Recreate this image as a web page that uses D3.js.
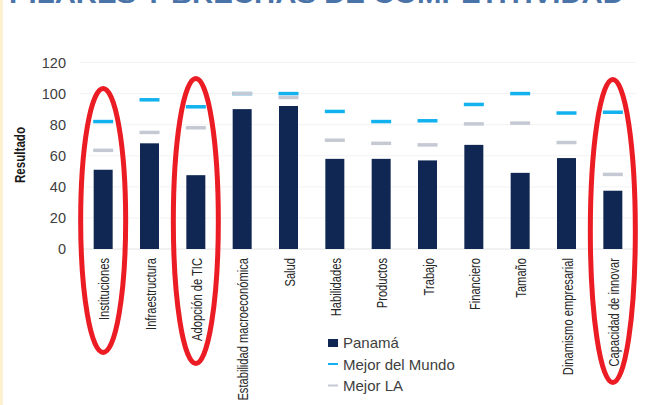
<!DOCTYPE html>
<html>
<head>
<meta charset="utf-8">
<script src="https://cdn.jsdelivr.net/npm/d3@7"></script>
<style>
  html, body { margin: 0; padding: 0; background: #fff; }
  svg { display: block; }
</style>
</head>
<body>
<svg id="chart" width="654" height="405"></svg>
<script>
// chart data
var categories = ["Instituciones", "Infraestructura", "Adopción de TIC", "Estabilidad macroeconómica",
  "Salud", "Habilidades", "Productos", "Trabajo", "Financiero", "Tamaño",
  "Dinamismo empresarial", "Capacidad de innovar"];
var panama = [51, 68, 47.5, 90, 92, 58, 58, 57, 67, 49, 58.5, 37.5];
var mejorMundo = [82, 96, 91.5, 100, 100, 88.5, 82, 82.5, 93, 100, 87.5, 88];
var mejorLA = [63.5, 75, 78, 100, 97.5, 70, 68, 67, 80.5, 81, 68.5, 48];
var yTicks = [0, 20, 40, 60, 80, 100, 120];
var highlighted = ["Instituciones", "Adopción de TIC", "Capacidad de innovar"];

var svg = d3.select("#chart");
var sans = "'Liberation Sans', Arial, sans-serif";
var squeeze = 0.72; // the source used a condensed face, so squeeze the axis texts

// cream strip on the left edge
svg.append("rect").attr("x", 0).attr("y", 0).attr("width", 3).attr("height", 405).attr("fill", "#fdf1d2");

// title, clipped by the top of the picture
svg.append("text")
  .attr("x", 9).attr("y", 3)
  .attr("textLength", 615).attr("lengthAdjust", "spacingAndGlyphs")
  .style("font-family", sans).style("font-weight", "bold").style("font-size", "26px")
  .attr("fill", "#4a73a8")
  .text("PILARES Y BRECHAS DE COMPETITIVIDAD");

var x = d3.scaleBand().domain(categories).range([80, 636]).paddingInner(0.59).paddingOuter(0.295);
var y = d3.scaleLinear().domain([0, 120]).range([249, 62.5]);

var g = svg.append("g");

// gridlines
g.selectAll(".grid")
  .data(yTicks)
  .enter().append("line")
  .attr("x1", 80).attr("x2", 636)
  .attr("y1", function(d) { return y(d); })
  .attr("y2", function(d) { return y(d); })
  .style("stroke", function(d) { return d === 0 ? "#e4e4e4" : "#f3f3f3"; })
  .style("stroke-width", "1px");

// y axis labels
var yAxis = d3.axisLeft(y).tickValues(yTicks).tickSize(0).tickPadding(0);
var ya = g.append("g").attr("transform", "translate(66,0)").call(yAxis);
ya.select(".domain").remove();
ya.selectAll("text")
  .style("font-family", sans).style("font-size", "14.5px").attr("fill", "#404040");

g.append("text")
  .attr("transform", "translate(25,155) rotate(-90) scale(0.8,1)")
  .style("text-anchor", "middle")
  .style("font-family", sans).style("font-weight", "bold").style("font-size", "14.5px")
  .attr("fill", "#1a1a1a")
  .text("Resultado");

// bars
g.selectAll(".bar")
  .data(categories)
  .enter().append("rect")
  .attr("class", "bar")
  .attr("x", function(d) { return x(d); })
  .attr("width", x.bandwidth())
  .attr("y", function(d, i) { return y(panama[i]); })
  .attr("height", function(d, i) { return y(0) - y(panama[i]); })
  .attr("fill", "#0f2752");

// markers
function dashes(values, color, cls) {
  g.selectAll("." + cls)
    .data(categories)
    .enter().append("line")
    .attr("class", cls)
    .attr("x1", function(d) { return x(d) - 0.5; })
    .attr("x2", function(d) { return x(d) + x.bandwidth() + 0.5; })
    .attr("y1", function(d, i) { return y(values[i]); })
    .attr("y2", function(d, i) { return y(values[i]); })
    .style("stroke", color)
    .style("stroke-width", "3.5px");
}
dashes(mejorMundo, "#12b2ee", "mundo");
dashes(mejorLA, "#c5c9d3", "la");

// x labels
g.selectAll(".xlab")
  .data(categories)
  .enter().append("text")
  .attr("class", "xlab")
  .attr("transform", function(d) {
    return "translate(" + (x(d) + x.bandwidth() / 2 + 6) + ",258) rotate(-90) scale(" + squeeze + ",1)";
  })
  .style("text-anchor", "end")
  .style("font-family", sans).style("font-size", "15.5px")
  .attr("fill", "#262626")
  .text(function(d) { return d; });

// red ellipses
var ellipses = [
  { cat: "Instituciones", top: 86, bottom: 355 },
  { cat: "Adopción de TIC", top: 76, bottom: 366 },
  { cat: "Capacidad de innovar", top: 77, bottom: 385 }
];
g.selectAll(".ring")
  .data(ellipses.filter(function(e) { return highlighted.indexOf(e.cat) >= 0; }))
  .enter().append("ellipse")
  .attr("cx", function(d) { return x(d.cat) + x.bandwidth() / 2; })
  .attr("cy", function(d) { return (d.top + d.bottom) / 2; })
  .attr("rx", 22.5)
  .attr("ry", function(d) { return (d.bottom - d.top) / 2 - 2.5; })
  .style("fill", "none")
  .style("stroke", "#ec1c24")
  .style("stroke-width", "5px");

// legend
var legend = g.append("g").attr("transform", "translate(328,0)");
legend.append("rect").attr("x", 0).attr("y", 339).attr("width", 10).attr("height", 8).attr("fill", "#0f2752");
legend.append("line").attr("x1", 0).attr("x2", 10).attr("y1", 364).attr("y2", 364)
  .style("stroke", "#12b2ee").style("stroke-width", "2px");
legend.append("line").attr("x1", 0).attr("x2", 10).attr("y1", 385.5).attr("y2", 385.5)
  .style("stroke", "#c5c9d3").style("stroke-width", "2px");
var legendNames = ["Panamá", "Mejor del Mundo", "Mejor LA"];
legend.selectAll(".ltext")
  .data(legendNames)
  .enter().append("text")
  .attr("x", 15)
  .attr("y", function(d, i) { return 343 + i * 21.5; })
  .attr("dy", "0.35em")
  .style("font-family", sans).style("font-size", "15px")
  .attr("fill", "#404040")
  .text(function(d) { return d; });
</script>
</body>
</html>
